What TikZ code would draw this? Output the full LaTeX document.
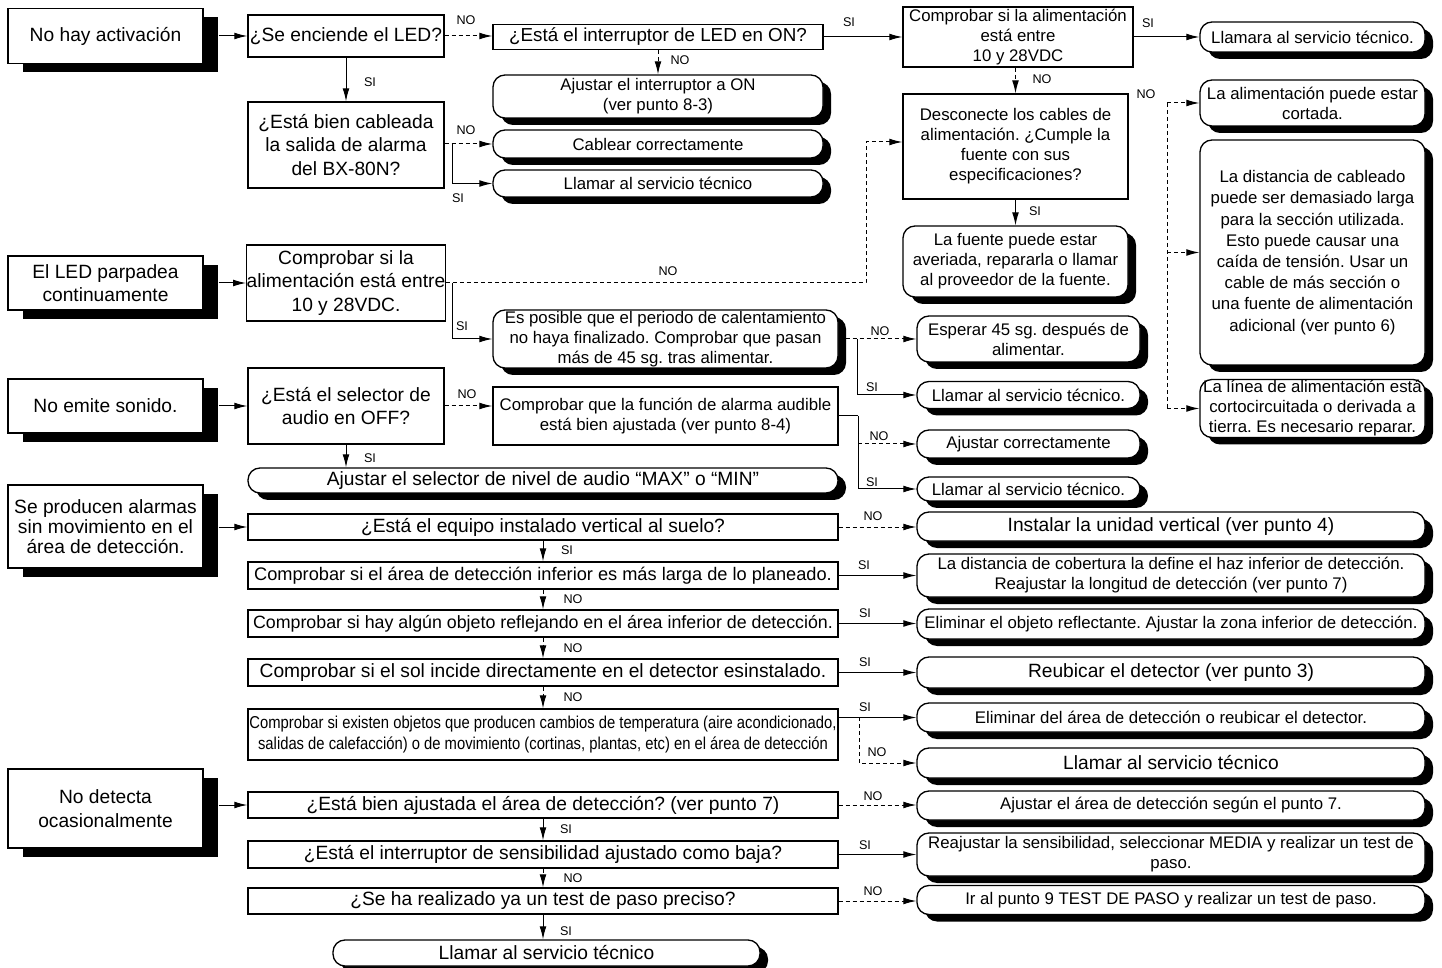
\documentclass[tikz,border=0pt]{standalone}
\usepackage{fontspec}
\setmainfont{Liberation Sans}
\newfontfamily\narrowfont{Liberation Sans}[FakeStretch=0.86]
\usepackage{tikz}
\usetikzlibrary{arrows.meta,shadows}
\frenchspacing

\newcommand{\bigtxt}{\fontsize{9.6}{11.8}\selectfont}
\newcommand{\midtxt}{\fontsize{8.4}{10}\selectfont}

\begin{document}
\begin{tikzpicture}[x=0.5pt, y=-0.5pt, >={Latex[length=6.5pt,width=3.4pt]},
  wh/.style 2 args={minimum width=#1*0.5pt, minimum height=#2*0.5pt},
  box/.style={draw, fill=white, line width=0.65pt, inner sep=0pt, align=center, font=\bigtxt},
  start/.style={box, drop shadow={shadow xshift=7.5pt, shadow yshift=-4.5pt, fill=black, opacity=1}},
  fin/.style={box, rounded corners=6pt, drop shadow={shadow xshift=4pt, shadow yshift=-3.5pt, fill=black, opacity=1}},
  mid/.style={font=\midtxt},
  tag/.style={font=\fontsize{6.3}{7}\selectfont, inner sep=0pt},
  yes/.style={->, line width=0.5pt},
  no/.style={->, line width=0.5pt, dash pattern=on 2pt off 1.5pt}]

\useasboundingbox (0,0) rectangle (1442,968);

% problems
\node [start, wh={195}{55}] (S1) at (105.5,36) {No hay activación};
\node [start, wh={195}{54}] (S2) at (105.5,283) {El LED parpadea\\continuamente};
\node [start, wh={195}{54}] (S3) at (105.5,406) {No emite sonido.};
\node [start, wh={195}{83}, font=\fontsize{9.6}{10}\selectfont] (S4) at (105.5,526.5)
  {Se producen alarmas\\sin movimiento en el\\área de detección.};
\node [start, wh={195}{79}] (S5) at (105.5,808.5) {No detecta\\ocasionalmente};

% first checks
\node [box, wh={196}{42}] (D1) at (346,36) {¿Se enciende el LED?};
\node [box, wh={196}{86}] (D2) at (346,145) {¿Está bien cableada\\la salida de alarma\\del BX-80N?};
\node [box, wh={196}{76}] (D3) at (346,283) {Comprobar si la\\alimentación está entre\\10 y 28VDC.};
\node [box, wh={196}{76}] (D4) at (346,406) {¿Está el selector de\\audio en OFF?};

% LED branch
\node [box, wh={330}{25}, font=\fontsize{9.4}{11}\selectfont] (E1) at (658,37) {¿Está el interruptor de LED en ON?};
\node [fin, mid, wh={330}{43}] (F1) at (658,96.5) {Ajustar el interruptor a ON\\(ver punto 8-3)};
\node [fin, mid, wh={330}{28}] (G1) at (658,144) {Cablear correctamente};
\node [fin, mid, wh={330}{27}] (G2) at (658,183.5) {Llamar al servicio técnico};

% power supply
\node [box, mid, wh={230}{60}] (C1) at (1018,37) {Comprobar si la alimentación\\está entre\\10 y 28VDC};
\node [fin, mid, wh={225}{30}] (R1) at (1312.5,37) {Llamara al servicio técnico.};
\node [box, mid, wh={225}{105}] (C2) at (1015.5,146.5)
  {Desconecte los cables de\\alimentación. ¿Cumple la\\fuente con sus\\especificaciones?};
\node [fin, mid, wh={225}{71}] (R2) at (1015.5,261.5)
  {La fuente puede estar\\averiada, repararla o llamar\\al proveedor de la fuente.};
\node [fin, mid, wh={225}{46}] (R3) at (1312.5,103) {La alimentación puede estar\\cortada.};
\node [fin, wh={225}{225}, font=\fontsize{8.4}{10.6}\selectfont] (R4) at (1312.5,252.5)
  {La distancia de cableado\\puede ser demasiado larga\\para la sección utilizada.\\Esto puede causar una\\caída de tensión. Usar un\\cable de más sección o\\una fuente de alimentación\\adicional (ver punto 6)};
\node [fin, mid, wh={225}{58}] (R5) at (1312.5,408.5)
  {La línea de alimentación está\\cortocircuitada o derivada a\\tierra. Es necesario reparar.};

% warm-up and audio
\node [fin, mid, wh={345}{58}] (H1) at (665.5,339)
  {Es posible que el periodo de calentamiento\\no haya finalizado. Comprobar que pasan\\más de 45 sg. tras alimentar.};
\node [fin, mid, wh={223}{46}] (I1) at (1028.5,339) {Esperar 45 sg. después de\\alimentar.};
\node [fin, mid, wh={223}{27}] (I2) at (1028.5,395) {Llamar al servicio técnico.};
\node [box, mid, wh={345}{58}] (J1) at (665.5,416)
  {Comprobar que la función de alarma audible\\está bien ajustada (ver punto 8-4)};
\node [fin, mid, wh={223}{28}] (K1) at (1028.5,444) {Ajustar correctamente};
\node [fin, mid, wh={223}{24}] (L1) at (1028.5,489) {Llamar al servicio técnico.};
\node [fin, wh={590}{25}] (M1) at (543,480.5) {Ajustar el selector de nivel de audio “MAX” o “MIN”};

% false alarms
\node [box, wh={590}{26}] (N1) at (543,527) {¿Está el equipo instalado vertical al suelo?};
\node [box, wh={590}{27}, font=\fontsize{9.1}{11}\selectfont] (N2) at (543,575.5)
  {Comprobar si el área de detección inferior es más larga de lo planeado.};
\node [box, wh={590}{27}, font=\fontsize{8.9}{11}\selectfont] (N3) at (543,623.5)
  {Comprobar si hay algún objeto reflejando en el área inferior de detección.};
\node [box, wh={590}{27}] (N4) at (543,672.5) {Comprobar si el sol incide directamente en el detector esinstalado.};
\node [box, wh={590}{51}, font=\narrowfont\fontsize{8.6}{10.5}\selectfont] (N5) at (543,734.5)
  {Comprobar si existen objetos que producen cambios de temperatura (aire acondicionado,\\salidas de calefacción) o de movimiento (cortinas, plantas, etc) en el área de detección};
\node [fin, wh={508}{29}] (O1) at (1171,526.5) {Instalar la unidad vertical (ver punto 4)};
\node [fin, mid, wh={508}{43}] (O2) at (1171,575.5)
  {La distancia de cobertura la define el haz inferior de detección.\\Reajustar la longitud de detección (ver punto 7)};
\node [fin, mid, wh={508}{30}] (O3) at (1171,624) {Eliminar el objeto reflectante. Ajustar la zona inferior de detección.};
\node [fin, wh={508}{31}] (O4) at (1171,672.5) {Reubicar el detector (ver punto 3)};
\node [fin, mid, wh={508}{29}] (O5) at (1171,717.5) {Eliminar del área de detección o reubicar el detector.};
\node [fin, wh={508}{30}] (O6) at (1171,763) {Llamar al servicio técnico};

% no detection
\node [box, wh={590}{26}] (P1) at (543,805) {¿Está bien ajustada el área de detección? (ver punto 7)};
\node [box, wh={590}{27}] (P2) at (543,854.5) {¿Está el interruptor de sensibilidad ajustado como baja?};
\node [box, wh={590}{26}] (P3) at (543,901) {¿Se ha realizado ya un test de paso preciso?};
\node [fin, mid, wh={508}{29}] (Q1) at (1171,805.5) {Ajustar el área de detección según el punto 7.};
\node [fin, mid, wh={508}{43}] (Q2) at (1171,854.5)
  {Reajustar la sensibilidad, seleccionar MEDIA y realizar un test de\\paso.};
\node [fin, mid, wh={508}{29}] (Q3) at (1171,900) {Ir al punto 9 TEST DE PASO y realizar un test de paso.};
\node [fin, wh={427}{26}] (T1) at (546.5,953) {Llamar al servicio técnico};

% junctions
\coordinate (bus) at (1167,103);
\coordinate (c2in) at (866,142);
\coordinate (d2j) at (452,144);
\coordinate (d3j) at (452,283);
\coordinate (h1j) at (857,339);
\coordinate (j1j) at (858,416);
\coordinate (n5j) at (859,717);

% connectors
\foreach \a/\b in {S1/D1, S2/D3, S3/D4, S4/N1, S5/P1}
  \draw [yes] (\a.east |- \b.west) ++(7.5pt,0) -- (\b.west);

\draw [no] (D1.east) -- (D1.east -| E1.west);
\draw [yes] (D1) -- (D2);
\draw [no] (E1) -- (F1);
\draw [yes] (E1) -- (C1);
\draw [yes] (C1) -- (R1);
\draw [no] (C2.north |- C1.south) -- (C2.north);
\draw [yes] (C2) -- (R2);
\draw [no] (bus) -- (R3.west);
\draw [no, -] (bus) -- (bus |- R5.west);
\foreach \b in {R4, R5}
  \draw [no] (bus |- \b.west) -- (\b.west);

\draw [no] (D2.east |- G1.west) -- (G1.west);
\draw [yes] (d2j) |- (G2.west);
\draw [no] (D3.east) -| (c2in) -- (C2.west |- c2in);
\draw [yes] (d3j) |- (H1.west);
\draw [no] (H1) -- (I1);
\draw [yes] (h1j) |- (I2.west);

\draw [no] (D4.east) -- (D4.east -| J1.west);
\draw [yes] (D4.south) -- (D4.south |- M1.north);
\draw [line width=0.5pt] (J1.east) -- (j1j);
\draw [no] (j1j |- K1.west) -- (K1.west);
\draw [yes] (j1j) |- (L1.west);

\foreach \a/\b in {N1/O1, P1/Q1, P3/Q3}
  \draw [no] (\a.east) -- (\a.east -| \b.west);
\foreach \a/\b in {N2/O2, N3/O3, N4/O4, P2/Q2}
  \draw [yes] (\a.east) -- (\a.east -| \b.west);
\draw [yes] (N5.east |- O5.west) -- (O5.west);
\draw [no] (n5j) |- (O6.west);

\foreach \a/\b in {N1/N2, P1/P2}
  \draw [yes] (\a) -- (\b);
\foreach \a/\b in {N2/N3, N3/N4, N4/N5, P2/P3}
  \draw [no] (\a) -- (\b);
\draw [yes] (P3.south) -- (P3.south |- T1.north);

% SI / NO tags
\foreach \t/\x/\y [count=\i] in {NO/466/20, SI/370/82, NO/680/60, SI/849/22, SI/1148/23,
    NO/1042/79, NO/1146/94, SI/1035/211, NO/466/130, SI/458/198, NO/668/271, SI/462/326,
    NO/880/331, SI/872/387, NO/467/394, NO/879/436, SI/872/482, SI/370/458, NO/873/516,
    SI/567/550, SI/864/565, NO/573/599, SI/865/613, NO/573/648, SI/865/662, NO/573/697,
    SI/865/707, NO/877/752, NO/873/796, SI/566/829, SI/865/845, NO/573/878, NO/873/891,
    SI/566/931}
  \node [tag] (tag-\i) at (\x,\y) {\t};
\end{tikzpicture}
\end{document}
